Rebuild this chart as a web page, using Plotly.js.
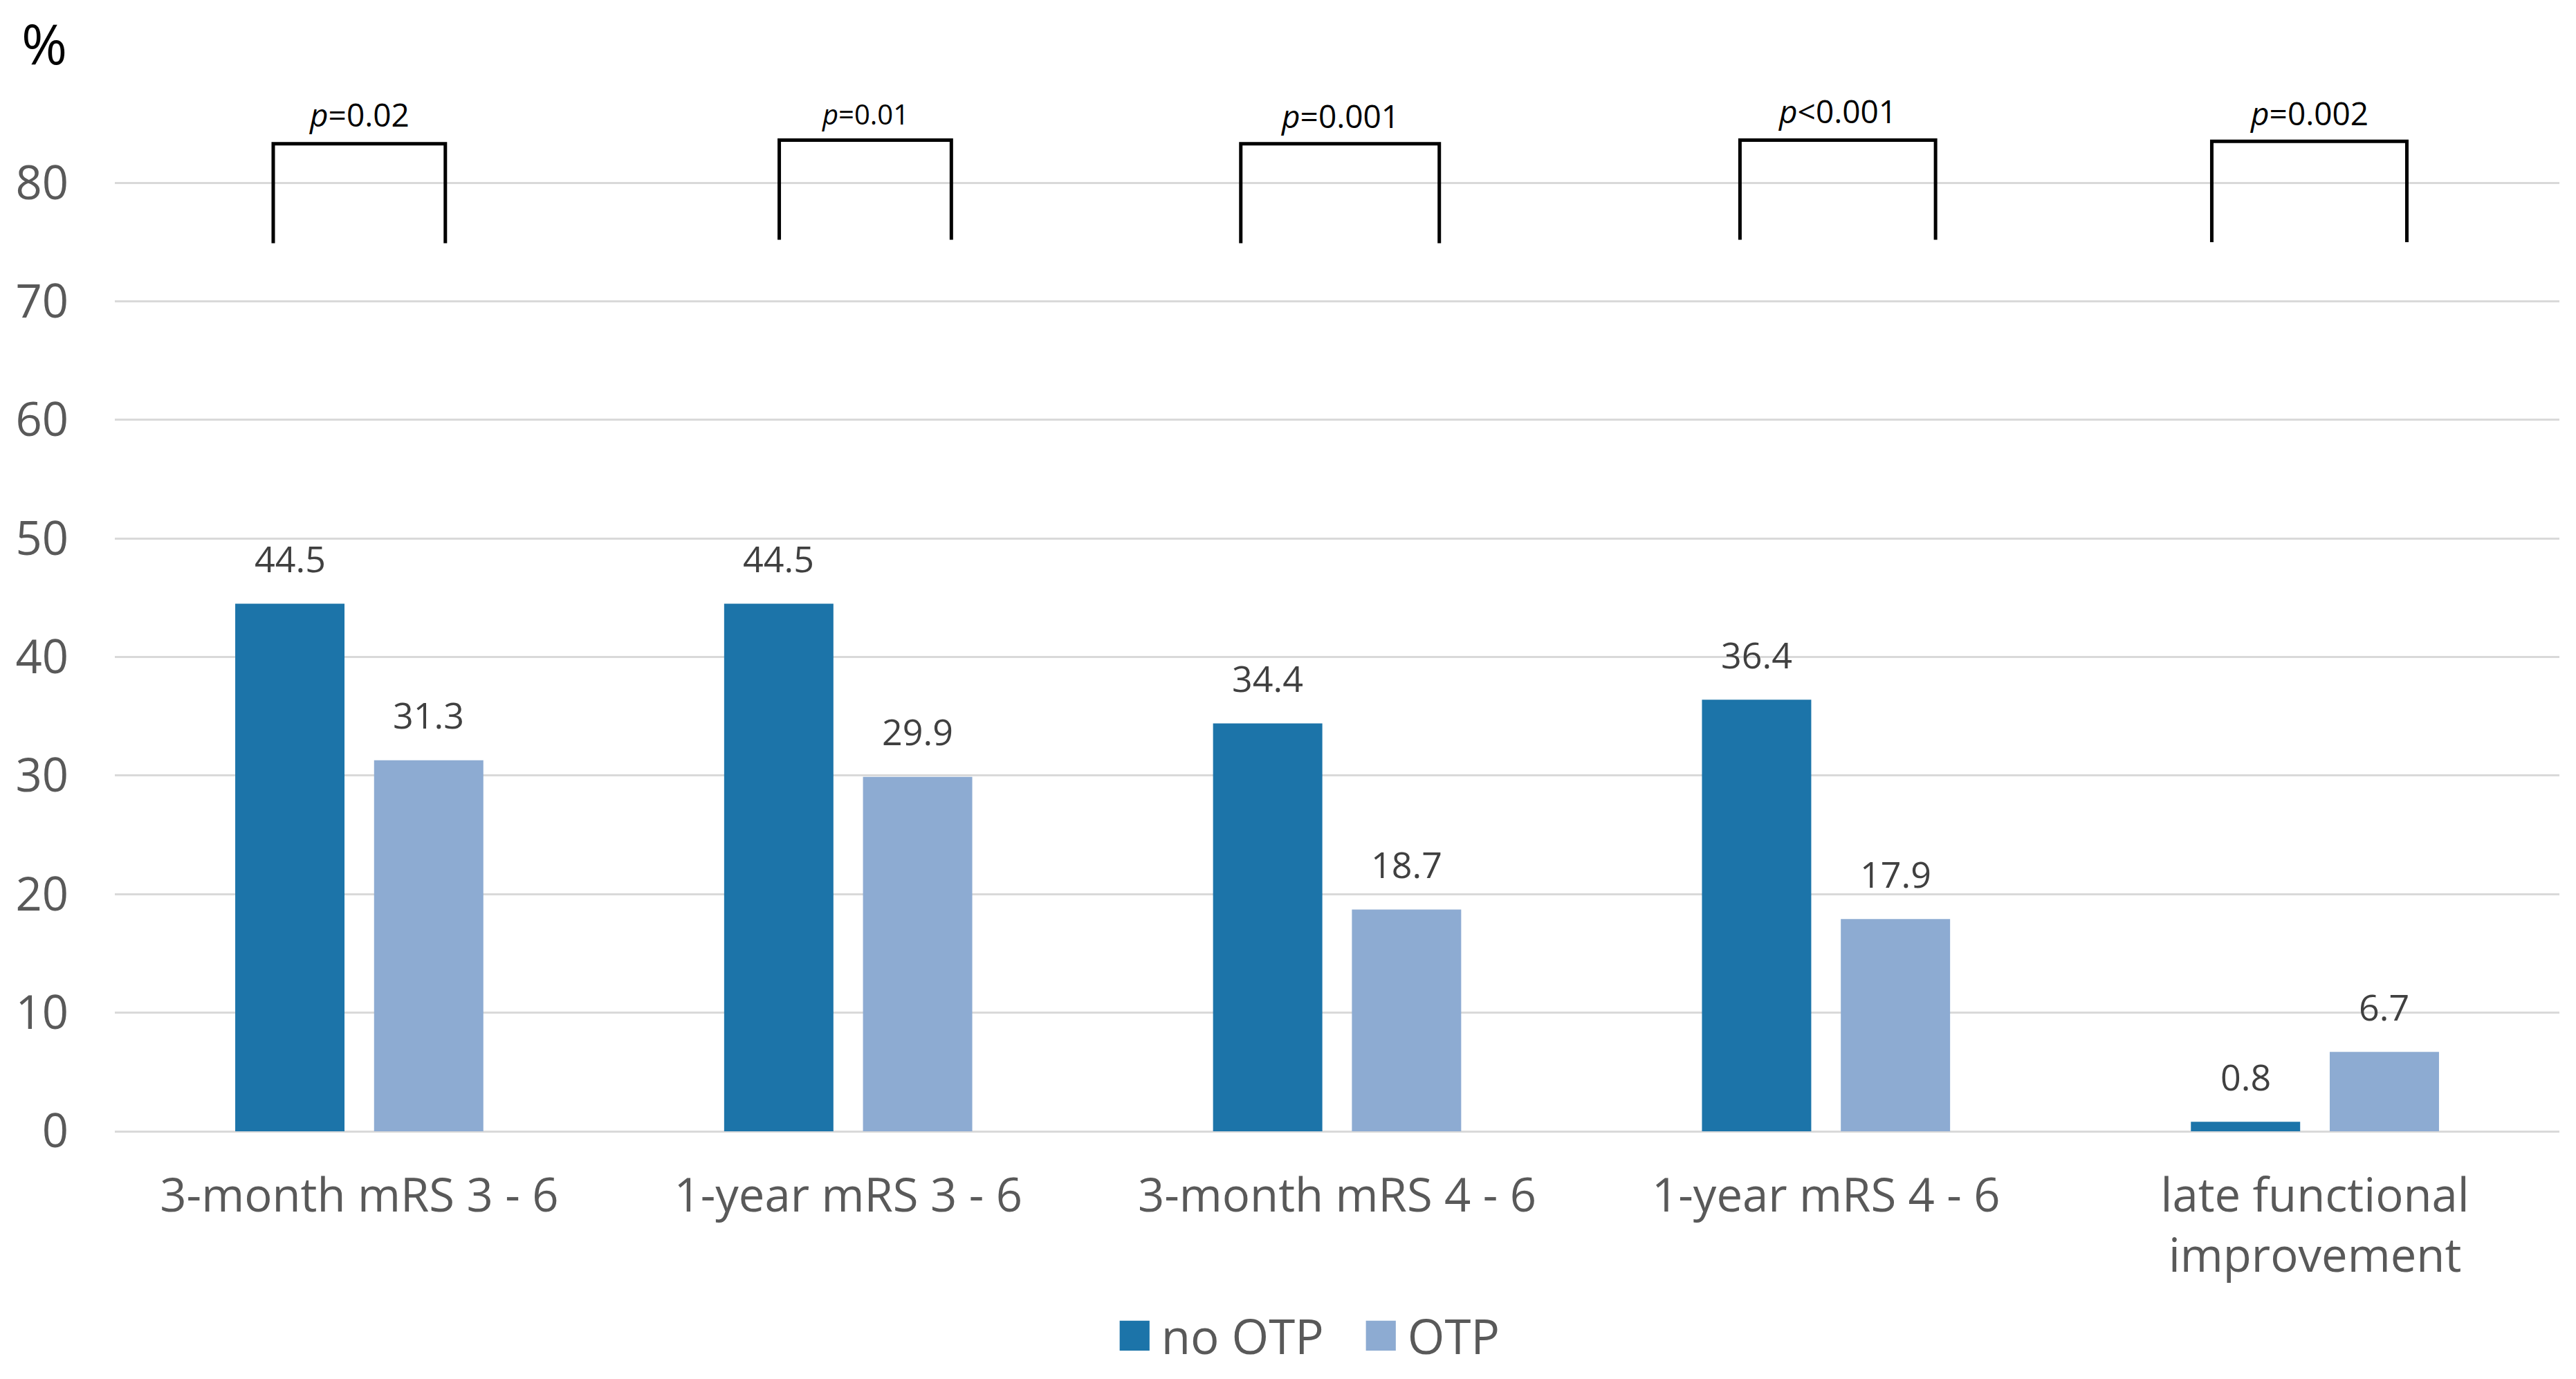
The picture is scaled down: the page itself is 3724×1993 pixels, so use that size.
<!DOCTYPE html>
<html>
<head>
<meta charset="utf-8">
<script src="https://cdn.plot.ly/plotly-3.0.1.min.js"></script>
<style>html,body{margin:0;padding:0;background:#fff;}#chart{width:3724px;height:1993px;}</style>
</head>
<body>
<div id="chart"></div>
<script>
var categories = ["3-month mRS 3 - 6", "1-year mRS 3 - 6", "3-month mRS 4 - 6", "1-year mRS 4 - 6", "late functional<br>improvement"];
var noOTP = [44.5, 44.5, 34.4, 36.4, 0.8];
var OTP = [31.3, 29.9, 18.7, 17.9, 6.7];
var seriesNames = ["no OTP", "OTP"];
var pLabels = ["<i>p</i>=0.02", "<i>p</i>=0.01", "<i>p</i>=0.001", "<i>p</i><0.001", "<i>p</i>=0.002"];
var bracketLeft = [-0.176, 0.859, 1.803, 2.824, 3.789];
var bracketRight = [0.176, 1.211, 2.209, 3.224, 4.188];
var bracketTop = [83.3, 83.6, 83.3, 83.6, 83.5];
var bracketBottom = [74.9, 75.2, 74.9, 75.2, 75.0];
var pLabelY = [85.8, 85.8, 85.7, 86.1, 85.9];
var yTicks = [0, 10, 20, 30, 40, 50, 60, 70, 80];

var FONT = "Open Sans, Noto Sans, sans-serif";
var darkColor = "#1c74a9";
var lightColor = "#8dabd2";
var barOffset = 0.142;

var traces = [
  {type: "bar", name: seriesNames[0], x: categories, y: noOTP, marker: {color: darkColor}, hoverinfo: "y"},
  {type: "bar", name: seriesNames[1], x: categories, y: OTP, marker: {color: lightColor}, hoverinfo: "y"}
];

var annotations = [];
var shapes = [];
function addValueLabels(vals, off) {
  vals.forEach(function (v, i) {
    annotations.push({
      xref: "x", yref: "y", x: i + off, y: v, text: v.toFixed(1),
      showarrow: false, yanchor: "middle", yshift: 66,
      font: {family: FONT, size: 52, color: "#404040"}
    });
  });
}
addValueLabels(noOTP, -barOffset);
addValueLabels(OTP, barOffset);

pLabels.forEach(function (t, i) {
  var xl = bracketLeft[i], xr = bracketRight[i];
  shapes.push({
    type: "path", xref: "x", yref: "y",
    path: "M" + xl + "," + bracketBottom[i] + " L" + xl + "," + bracketTop[i] + " L" + xr + "," + bracketTop[i] + " L" + xr + "," + bracketBottom[i],
    line: {color: "#000000", width: 5}
  });
  annotations.push({
    xref: "x", yref: "y", x: (xl + xr) / 2, y: pLabelY[i], text: t,
    showarrow: false, yanchor: "middle",
    font: {family: FONT, size: i === 1 ? 40 : 46, color: "#000000"}
  });
});

annotations.push({
  xref: "paper", yref: "paper", x: -0.0290, y: 1.032, text: "%",
  showarrow: false, xanchor: "center", yanchor: "middle",
  font: {family: FONT, size: 80, color: "#000000"}
});

var layout = {
  width: 3724, height: 1993,
  paper_bgcolor: "#ffffff", plot_bgcolor: "#ffffff",
  margin: {l: 166, r: 24, t: 110, b: 357},
  barmode: "group", bargap: 0.432, bargroupgap: 0.213,
  font: {family: FONT, color: "#595959"},
  xaxis: {
    type: "category", showgrid: false, showline: false, ticks: "",
    tickfont: {family: FONT, size: 67, color: "#595959"},
    ticklabelstandoff: 48, fixedrange: true
  },
  yaxis: {
    range: [0, 89], tickvals: yTicks, showgrid: true, gridcolor: "#d9d9d9", gridwidth: 3,
    zeroline: true, zerolinecolor: "#d9d9d9", zerolinewidth: 3,
    showline: false, ticks: "",
    tickfont: {family: FONT, size: 67, color: "#595959"},
    ticklabelstandoff: 66, fixedrange: true
  },
  showlegend: true,
  legend: {
    orientation: "h", x: 0.507, xanchor: "center", y: -0.193, yanchor: "middle",
    font: {family: FONT, size: 69, color: "#595959"},
    itemwidth: 67, entrywidth: 274, bgcolor: "rgba(0,0,0,0)"
  },
  annotations: annotations,
  shapes: shapes
};

Plotly.newPlot("chart", traces, layout, {staticPlot: true, displayModeBar: false}).then(function () {
  document.querySelectorAll("#chart .legend .legendpoints path").forEach(function (p) {
    var t = p.getAttribute("transform") || "";
    p.setAttribute("transform", t + " scale(3.6)");
  });
});
</script>
</body>
</html>
